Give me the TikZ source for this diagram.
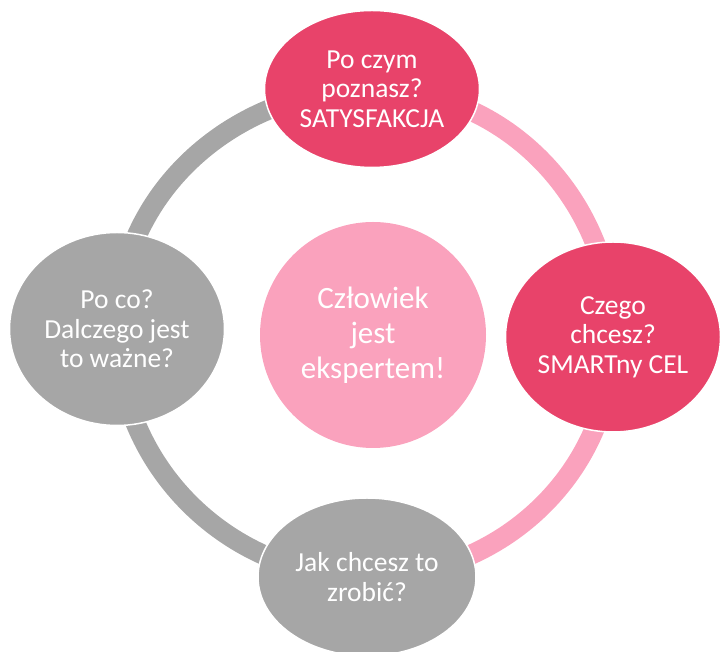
\documentclass[tikz,border=0pt]{standalone}
\usepackage{fontspec}
\setmainfont{Carlito}
\usetikzlibrary{shapes.geometric,backgrounds}
\definecolor{rosedark}{RGB}{232,67,106}
\definecolor{roselight}{RGB}{250,162,189}
\definecolor{greymid}{RGB}{166,166,166}

\begin{document}
\begin{tikzpicture}[x=1pt, y=1pt,
  bubble/.style={ellipse, draw=white, line width=1.5pt, inner sep=0pt,
    minimum width=215pt, text=white, align=center,
    font=\fontsize{27.5}{29.5}\selectfont},
  ring/.style={line width=20pt}]
  \useasboundingbox (0,0) rectangle (720,652);
  % the four steps round the ring
  \node[bubble, fill=rosedark, minimum height=157pt] (proof) at (372,563)
    {Po czym\\poznasz?\\SATYSFAKCJA};
  \node[bubble, fill=rosedark, minimum height=190pt] (goal) at (613,315)
    {Czego\\chcesz?\\SMARTny CEL};
  \node[bubble, fill=greymid, minimum height=158pt, minimum width=218pt] (plan) at (367,75)
    {Jak chcesz to\\zrobić?};
  \node[bubble, fill=greymid, minimum height=193pt] (why) at (117,323)
    {Po co?\\Dalczego jest\\to ważne?};
  % centre
  \node[circle, fill=roselight, minimum size=226pt, inner sep=0pt, text=white,
    align=center, font=\fontsize{31}{35}\selectfont] (human) at (373,317)
    {Człowiek\\jest\\ekspertem!};
  \begin{scope}[on background layer]
    \draw[ring, roselight] (proof.center) to[out=0, in=90] (goal.center);
    \draw[ring, roselight] (goal.center) to[out=-90, in=0] (plan.center);
    \draw[ring, greymid] (plan.center) to[out=180, in=-90] (why.center);
    \draw[ring, greymid] (why.center) to[out=90, in=180] (proof.center);
  \end{scope}
\end{tikzpicture}
\end{document}
